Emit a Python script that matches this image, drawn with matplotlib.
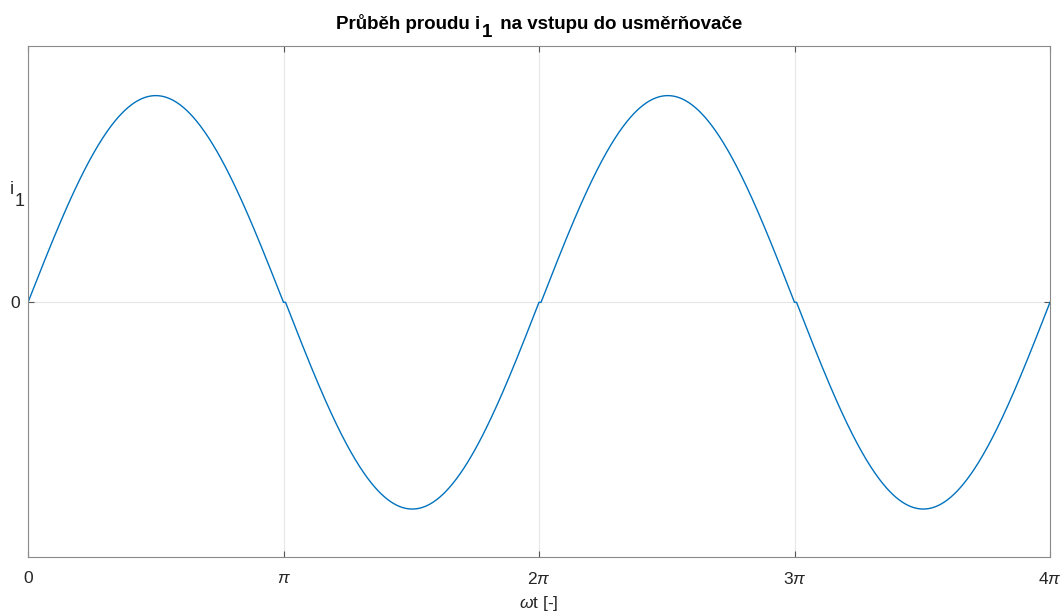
import numpy as np
import matplotlib
matplotlib.use("Agg")
import matplotlib.pyplot as plt
from matplotlib.transforms import IdentityTransform

plt.rcParams['font.family'] = ['Liberation Sans', 'DejaVu Sans']
plt.rcParams['mathtext.fontset'] = 'custom'
plt.rcParams['mathtext.rm'] = 'Liberation Sans'
plt.rcParams['mathtext.it'] = 'Liberation Sans:italic'
plt.rcParams['mathtext.bf'] = 'Liberation Sans:bold'

# Waveform parameters
amplitude = 1.0               # peak of the input current
overlap_angle = 0.008 * np.pi  # commutation interval at each zero crossing [rad]
half_periods = 4              # number of half-waves shown (0 .. 4*pi)

# Axis labels / ticks
x_tick_values = [0, np.pi, 2 * np.pi, 3 * np.pi, 4 * np.pi]
x_tick_labels = ['0', r'$\pi$', r'2$\pi$', r'3$\pi$', r'4$\pi$']
y_tick_values = [0]
y_tick_labels = ['0']
title_parts = ['Průběh proudu i', '1', ' na vstupu do usměrňovače']
x_label = r'$\omega$t [-]'
y_label_parts = ['i', '1']

# Build the current: each half-wave is a sine arc starting after the
# commutation interval and ending at the next multiple of pi
wt = []
i1 = []
for k in range(half_periods):
    start = k * np.pi
    sign = 1 if k % 2 == 0 else -1
    delay = overlap_angle if k > 0 else 0.0
    w_flat = np.linspace(start, start + delay, 3)
    wt.append(w_flat)
    i1.append(np.zeros_like(w_flat))
    a0 = start + delay
    w_arc = np.linspace(a0, start + np.pi, 400)
    wt.append(w_arc)
    i1.append(sign * amplitude * np.sin(np.pi * (w_arc - a0) / (start + np.pi - a0)))
wt = np.concatenate(wt)
i1 = np.concatenate(i1)

fig = plt.figure(figsize=(10.64, 6.14), dpi=100)
ax = fig.add_axes([28 / 1064, 1 - 557 / 614, (1050 - 28) / 1064, (557 - 46) / 614])

ax.plot(wt, i1, color='#0072BD', linewidth=1.0)

ax.set_xlim(0, 4 * np.pi)
ax.set_ylim(-1.232 * amplitude, 1.24 * amplitude)
ax.set_xticks(x_tick_values)
ax.set_xticklabels(x_tick_labels)
ax.set_yticks(y_tick_values)
ax.set_yticklabels(y_tick_labels)

ax.grid(True, color='#e6e6e6', linewidth=0.8)
ax.set_axisbelow(True)
for s in ax.spines.values():
    s.set_color('#8a8a8a')
    s.set_linewidth(0.8)
ax.tick_params(direction='in', length=4, width=0.8, color='#555555',
               labelsize=12.5, labelcolor='#262626', top=True, right=True)
ax.tick_params(axis='x', pad=10)
ax.tick_params(axis='y', pad=6)

ax.set_xlabel(x_label, fontsize=12.5, color='#262626', labelpad=5)

renderer = fig.canvas.get_renderer()

# Title, centred above the axes, with a dropped subscript "1"
title_kw = dict(fontsize=13.5, fontweight='bold', color='black')
title_drops_px = [0, 8, 0]
objs = [fig.text(0, 0, p, ha='left', va='baseline', transform=IdentityTransform(), **title_kw)
        for p in title_parts]
widths = [o.get_window_extent(renderer).width for o in objs]
gap = 2.0
total = sum(widths) + 2 * gap
x = (28 + 1050) / 2 - total / 2
base_y = 614 - 29
for o, w, d in zip(objs, widths, title_drops_px):
    o.set_position((x, base_y - d))
    x += w + gap

# y label "i" with subscript "1"
ylab_kw = dict(fontsize=13, color='#262626')
oi = fig.text(0, 0, y_label_parts[0], ha='left', va='baseline',
              transform=IdentityTransform(), **ylab_kw)
o1 = fig.text(0, 0, y_label_parts[1], ha='left', va='baseline',
              transform=IdentityTransform(), **ylab_kw)
wi = oi.get_window_extent(renderer).width
oi.set_position((10, 614 - 194))
o1.set_position((10 + wi + 0.5, 614 - 206))

fig.savefig('out.png', dpi=100)
